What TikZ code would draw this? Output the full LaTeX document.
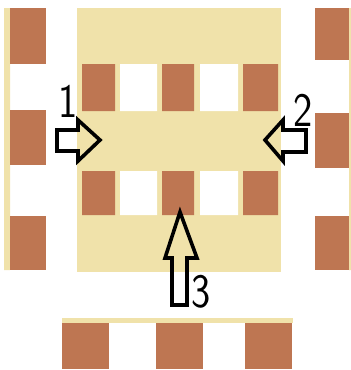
\documentclass[tikz,border=0pt]{standalone}
\usepackage{tikz}
\usetikzlibrary{arrows.meta}
\definecolor{brick}{RGB}{190,118,82}
\definecolor{sand}{RGB}{240,226,170}
\tikzset{tile/.style={fill=brick},
pad/.style={fill=sand},
hollow/.style={draw=black,line width=3.6pt,line join=miter,miter limit=4},
digit/.style={font=\sffamily\fontsize{48}{48}\selectfont,inner sep=0pt,xscale=0.85}}
\begin{document}
\begin{tikzpicture}[x=1pt,y=-1pt]
\useasboundingbox(0,0)rectangle(351,370);
% left and right columns
\path[pad](4,8)rectangle(10,270)
(349,8)rectangle(351,270);
\foreach \a/\b in {8/64,110/165,216/270}
{\path[tile](10,\a)rectangle(46,\b);}
\foreach \a/\b in {8/60,113/168,216/270}
{\path[tile](315,\a)rectangle(349,\b);}
% middle block
\path[pad](77,8)rectangle(281,272);
\foreach \a/\b in {64/111,171/215}
{\path[fill=white](120,\a)rectangle(157,\b)
(200,\a)rectangle(238,\b);
\path[tile](82,\a)rectangle(115,\b)
(162,\a)rectangle(194,\b)
(243,\a)rectangle(278,\b);}
% bottom row
\path[pad](62,318)rectangle(293,323);
\foreach \x in {62,156,245}
{\path[tile](\x,323)rectangle(\x+47,369);}
% arrows
\draw[hollow](57,130)--(78,130)--(78,120)--(100,140)--(78,161)--(78,151)--(57,151)--cycle;
\draw[hollow](306,130)--(283,130)--(283,120)--(265,140)--(283,161)--(283,152)--(306,152)--cycle;
\draw[hollow](172,305)--(172,258)--(165,258)--(180,212)--(197,258)--(187,258)--(187,305)--cycle;
\node[digit](one)at(68,101){1};
\node[digit](two)at(303,110){2};
\node[digit](three)at(201,292){3};
\end{tikzpicture}
\end{document}
